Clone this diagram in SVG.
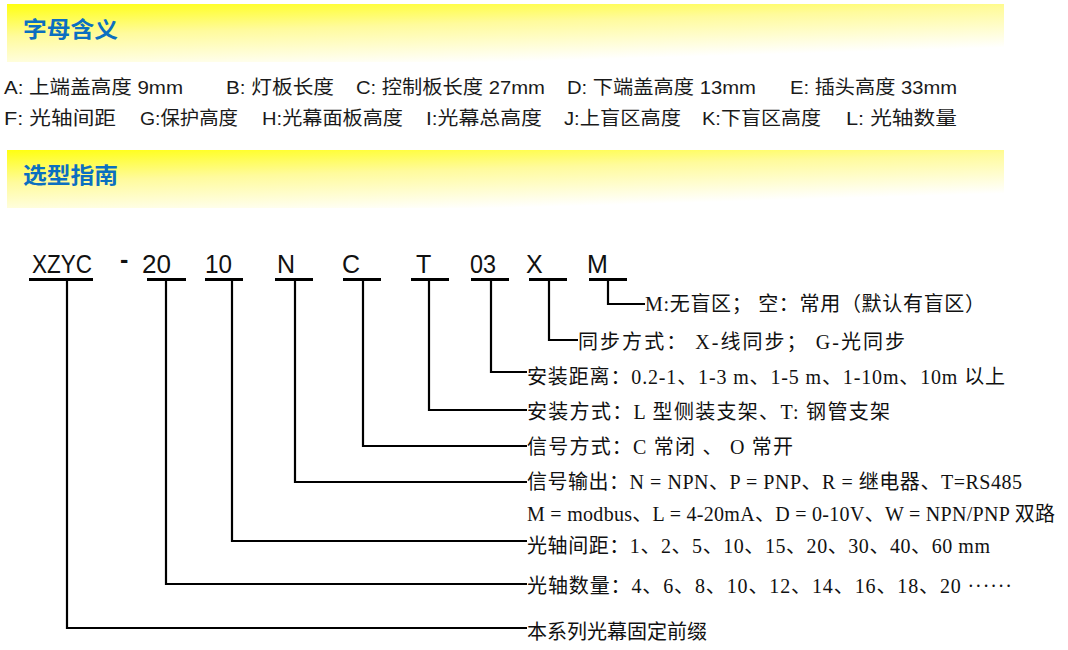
<svg xmlns="http://www.w3.org/2000/svg" width="1068" height="650" viewBox="0 0 1068 650">
<defs>
<linearGradient id="bar" x1="0" y1="0" x2="0.5" y2="1">
<stop offset="0" stop-color="#ffff10"/>
<stop offset="0.45" stop-color="#fffb9c"/>
<stop offset="1" stop-color="#ffffff"/>
</linearGradient>
<style>
.title{font-family:"Noto Sans CJK SC",sans-serif;font-size:22px;font-weight:bold;fill:#0b6fc0}
.def{font-family:"Liberation Sans","Noto Sans CJK SC",sans-serif;font-size:19px;fill:#1a1a1a}
.code{font-family:"Liberation Sans","Noto Sans CJK SC",sans-serif;font-size:25px;fill:#111}
.lbl{font-family:"Liberation Serif","Noto Sans CJK SC",serif;font-size:20px;fill:#111}
.ul{stroke:#000;stroke-width:3.2;fill:none}
.ln{stroke:#000;stroke-width:2.2;fill:none}
</style>
</defs>
<rect width="1068" height="650" fill="#fff"/>

<g id="header-meaning">
<rect x="7" y="4" width="997" height="58" fill="url(#bar)"/>
<text class="title" x="23" y="37" textLength="95" lengthAdjust="spacingAndGlyphs">字母含义</text>
</g>

<g id="letter-defs">
<text class="def" x="4" y="94" textLength="179" lengthAdjust="spacingAndGlyphs">A: 上端盖高度 9mm</text>
<text class="def" x="226" y="94" textLength="108" lengthAdjust="spacingAndGlyphs">B: 灯板长度</text>
<text class="def" x="356" y="94" textLength="189" lengthAdjust="spacingAndGlyphs">C: 控制板长度 27mm</text>
<text class="def" x="567" y="94" textLength="189" lengthAdjust="spacingAndGlyphs">D: 下端盖高度 13mm</text>
<text class="def" x="790" y="94" textLength="167" lengthAdjust="spacingAndGlyphs">E: 插头高度 33mm</text>
<text class="def" x="4" y="125" textLength="112" lengthAdjust="spacingAndGlyphs">F:  光轴间距</text>
<text class="def" x="140" y="125" textLength="98" lengthAdjust="spacingAndGlyphs">G:保护高度</text>
<text class="def" x="262" y="125" textLength="141" lengthAdjust="spacingAndGlyphs">H:光幕面板高度</text>
<text class="def" x="426" y="125" textLength="116" lengthAdjust="spacingAndGlyphs">I:光幕总高度</text>
<text class="def" x="564" y="125" textLength="117" lengthAdjust="spacingAndGlyphs">J:上盲区高度</text>
<text class="def" x="702" y="125" textLength="119" lengthAdjust="spacingAndGlyphs">K:下盲区高度</text>
<text class="def" x="846" y="125" textLength="111" lengthAdjust="spacingAndGlyphs">L:  光轴数量</text>
</g>

<g id="header-guide">
<rect x="7" y="150" width="997" height="58" fill="url(#bar)"/>
<text class="title" x="23" y="183" textLength="95" lengthAdjust="spacingAndGlyphs">选型指南</text>
</g>

<g id="code">
<text class="code" x="32" y="273" textLength="60" lengthAdjust="spacingAndGlyphs">XZYC</text>
<text class="code" x="120" y="268" font-weight="bold">-</text>
<text class="code" x="142" y="273" textLength="29" lengthAdjust="spacingAndGlyphs">20</text>
<text class="code" x="205" y="273" textLength="27" lengthAdjust="spacingAndGlyphs">10</text>
<text class="code" x="277" y="273">N</text>
<text class="code" x="342" y="273">C</text>
<text class="code" x="416" y="273">T</text>
<text class="code" x="470" y="273" textLength="26" lengthAdjust="spacingAndGlyphs">03</text>
<text class="code" x="526" y="273">X</text>
<text class="code" x="587" y="273">M</text>
</g>

<g id="underlines">
<line class="ul" x1="29" y1="279.5" x2="93" y2="279.5"/>
<line class="ul" x1="147" y1="279.5" x2="186" y2="279.5"/>
<line class="ul" x1="205" y1="279.5" x2="243" y2="279.5"/>
<line class="ul" x1="275" y1="279.5" x2="313" y2="279.5"/>
<line class="ul" x1="343" y1="279.5" x2="381" y2="279.5"/>
<line class="ul" x1="411" y1="279.5" x2="449" y2="279.5"/>
<line class="ul" x1="471" y1="279.5" x2="509" y2="279.5"/>
<line class="ul" x1="529" y1="279.5" x2="567" y2="279.5"/>
<line class="ul" x1="589" y1="279.5" x2="627" y2="279.5"/>
</g>

<g id="connectors">
<polyline class="ln" points="608,280 608,304 645,304"/>
<polyline class="ln" points="549,280 549,340 578,340"/>
<polyline class="ln" points="491,280 491,372 527,372"/>
<polyline class="ln" points="429,280 429,410 527,410"/>
<polyline class="ln" points="363,280 363,446 527,446"/>
<polyline class="ln" points="295,280 295,482 527,482"/>
<polyline class="ln" points="232,280 232,541 527,541"/>
<polyline class="ln" points="166,280 166,584 527,584"/>
<polyline class="ln" points="67,280 67,628 527,628"/>
</g>

<g id="labels">
<text class="lbl" x="645" y="311" textLength="340">M:无盲区； 空：常用（默认有盲区）</text>
<text class="lbl" x="578" y="349" textLength="327">同步方式：  X-线同步； G-光同步</text>
<text class="lbl" x="527" y="384" textLength="478">安装距离：0.2-1、1-3 m、1-5 m、1-10m、10m 以上</text>
<text class="lbl" x="527" y="419" textLength="363">安装方式：L 型侧装支架、T: 钢管支架</text>
<text class="lbl" x="527" y="454" textLength="266">信号方式：C 常闭 、 O 常开</text>
<text class="lbl" x="527" y="489" textLength="495">信号输出：N = NPN、P = PNP、R = 继电器、T=RS485</text>
<text class="lbl" x="527" y="521" textLength="528">M = modbus、L = 4-20mA、D = 0-10V、W = NPN/PNP 双路</text>
<text class="lbl" x="527" y="553" textLength="463">光轴间距：1、2、5、10、15、20、30、40、60 mm</text>
<text class="lbl" x="527" y="593" textLength="485">光轴数量：4、6、8、10、12、14、16、18、20 ······</text>
<text class="lbl" x="527" y="639">本系列光幕固定前缀</text>
</g>
</svg>
